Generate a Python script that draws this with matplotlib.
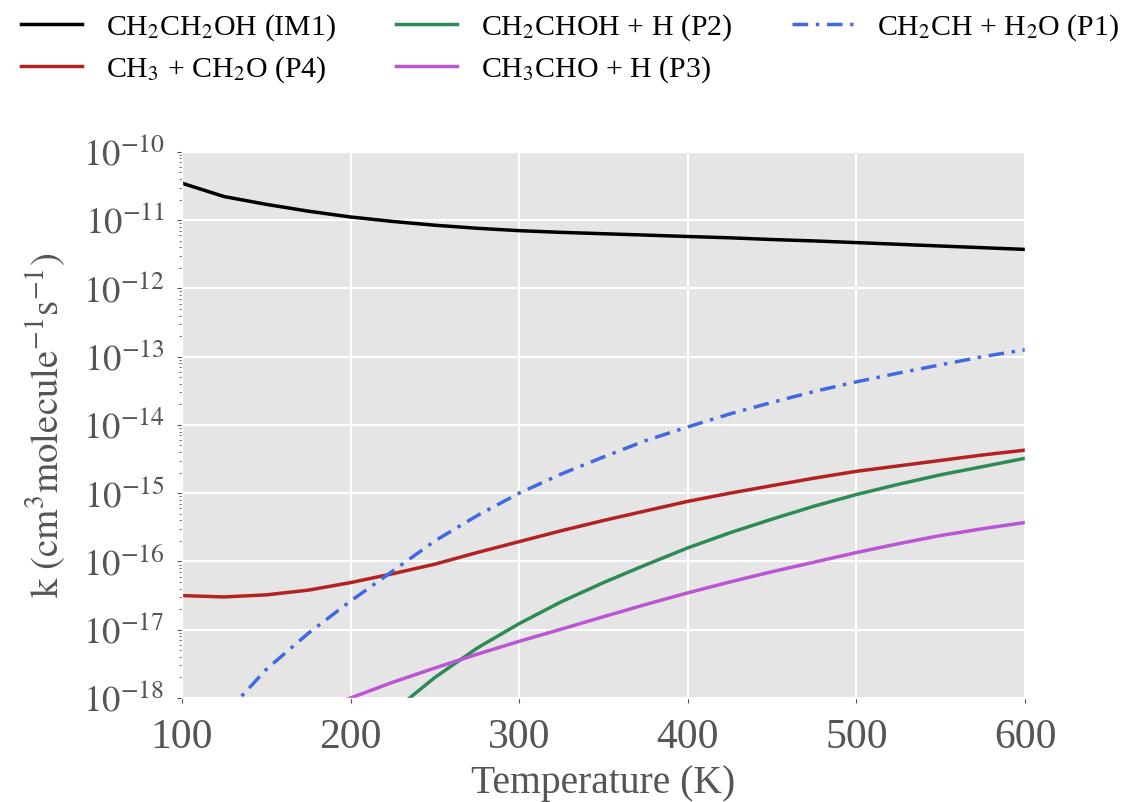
import matplotlib
matplotlib.use("Agg")
import matplotlib.pyplot as plt
from matplotlib.ticker import FuncFormatter, LogLocator

# Temperatures (K)
temperature = [100, 125, 150, 175, 200, 225, 250, 275, 300, 325, 350,
               375, 400, 425, 450, 475, 500, 525, 550, 575, 600]

# Rate constants (cm^3 molecule^-1 s^-1)
k_im1 = [3.47e-11, 2.21e-11, 1.70e-11, 1.35e-11, 1.11e-11, 9.55e-12, 8.41e-12,
         7.59e-12, 7.00e-12, 6.61e-12, 6.31e-12, 6.03e-12, 5.75e-12, 5.50e-12,
         5.19e-12, 4.95e-12, 4.68e-12, 4.42e-12, 4.17e-12, 3.94e-12, 3.72e-12]
k_p4 = [3.16e-17, 3.02e-17, 3.24e-17, 3.80e-17, 4.90e-17, 6.61e-17, 9.12e-17,
        1.35e-16, 1.95e-16, 2.82e-16, 3.98e-16, 5.50e-16, 7.59e-16, 1.00e-15,
        1.29e-15, 1.66e-15, 2.09e-15, 2.51e-15, 3.02e-15, 3.63e-15, 4.27e-15]
k_p2 = [1.60e-23, 4.00e-22, 5.00e-21, 3.55e-20, 1.66e-19, 6.31e-19, 2.00e-18,
        5.37e-18, 1.23e-17, 2.57e-17, 4.90e-17, 8.91e-17, 1.58e-16, 2.63e-16,
        4.17e-16, 6.46e-16, 9.55e-16, 1.35e-15, 1.86e-15, 2.45e-15, 3.24e-15]
k_p3 = [6.30e-20, 1.41e-19, 2.95e-19, 5.62e-19, 1.00e-18, 1.70e-18, 2.75e-18,
        4.37e-18, 6.76e-18, 1.02e-17, 1.55e-17, 2.34e-17, 3.47e-17, 5.01e-17,
        7.08e-17, 9.77e-17, 1.35e-16, 1.82e-16, 2.40e-16, 3.02e-16, 3.72e-16]
k_p1 = [1.00e-19, 5.60e-19, 2.63e-18, 8.91e-18, 2.63e-17, 7.24e-17, 2.00e-16,
        4.68e-16, 1.00e-15, 1.91e-15, 3.39e-15, 5.89e-15, 9.33e-15, 1.45e-14,
        2.14e-14, 3.09e-14, 4.27e-14, 5.75e-14, 7.59e-14, 1.00e-13, 1.26e-13]

labels = ["CH$_2$CH$_2$OH (IM1)", "CH$_3$ + CH$_2$O (P4)",
          "CH$_2$CHOH + H (P2)", "CH$_3$CHO + H (P3)",
          "CH$_2$CH + H$_2$O (P1)"]
colors = ["black", "#b22222", "#2e8b57", "#ba55d3", "#4169e1"]
x_ticks = [100, 200, 300, 400, 500, 600]
y_exponents = list(range(-18, -9))

plt.style.use("ggplot")
plt.rcParams["font.family"] = ["Liberation Serif", "DejaVu Serif"]
plt.rcParams["mathtext.fontset"] = "stix"

fig = plt.figure(figsize=(11.27, 8.02), dpi=100)
ax = fig.add_axes([0.1615, 0.1297, 0.748, 0.681])

series = [k_im1, k_p4, k_p2, k_p3, k_p1]
lines = []
for vals, lab, col in zip(series, labels, colors):
    if lab.endswith("(P1)"):
        ln, = ax.plot(temperature, vals, color=col, lw=2.5, label=lab,
                      dashes=(4.5, 2.2, 1.0, 2.2))
    else:
        ln, = ax.plot(temperature, vals, color=col, lw=2.5, label=lab)
    lines.append(ln)

ax.set_yscale("log")
ax.set_xlim(100, 600)
ax.set_ylim(1e-18, 1e-10)
ax.set_xticks(x_ticks)
ax.set_yticks([10.0 ** e for e in y_exponents])
ax.yaxis.set_minor_locator(LogLocator(base=10, subs=range(2, 10), numticks=30))


def decade_label(val, pos):
    exp = int(round(__import__("math").log10(val)))
    return r"$\mathrm{10^{%d}}$" % exp


ax.yaxis.set_major_formatter(FuncFormatter(decade_label))
ax.grid(True, which="major", color="white", lw=1.5)
ax.grid(False, which="minor")
ax.tick_params(axis="x", which="major", labelsize=30, colors="#555555", pad=11)
ax.tick_params(axis="y", which="major", labelsize=26.5, colors="#555555", pad=9)
ax.tick_params(axis="y", which="minor", length=2, colors="#555555")

ax.set_xlabel("Temperature (K)", fontsize=28.5, color="#555555", labelpad=6)
ax.set_ylabel(r"$\mathrm{k\ (cm^{3}molecule^{-1}s^{-1})}$", fontsize=28,
              color="#555555", labelpad=10)

fig.legend(handles=lines, labels=labels, loc="upper left",
           bbox_to_anchor=(0.008, 1.0), ncol=3, frameon=False, fontsize=21.5,
           handlelength=2.05, handletextpad=0.8, columnspacing=2.0,
           labelspacing=0.4, borderaxespad=0.0)

fig.savefig("out.png", dpi=100)
